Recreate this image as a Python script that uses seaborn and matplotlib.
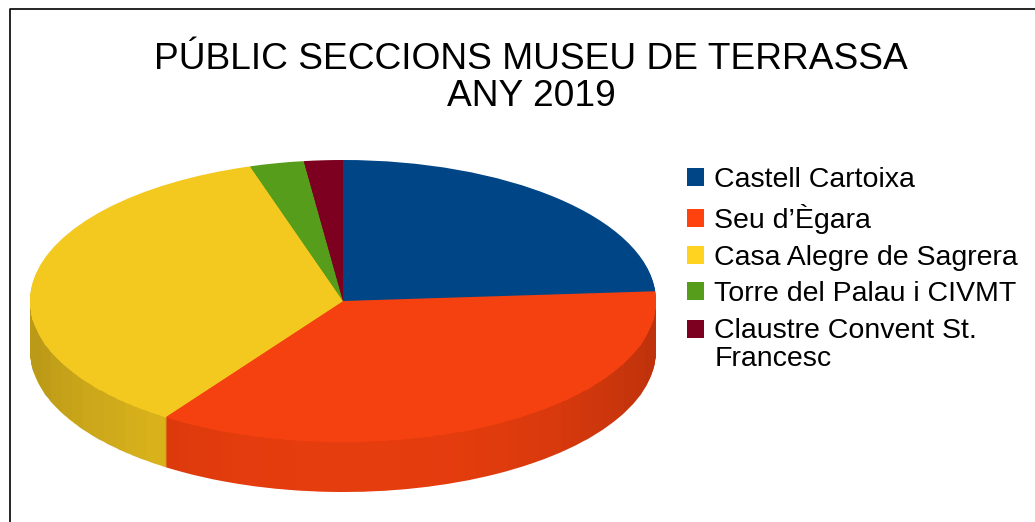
import matplotlib
matplotlib.use('Agg')
import matplotlib.pyplot as plt
import numpy as np
import seaborn as sns
from matplotlib.colors import LinearSegmentedColormap
from matplotlib.patches import Polygon

labels = ['Castell Cartoixa', 'Seu d’Ègara', 'Casa Alegre de Sagrera',
          'Torre del Palau i CIVMT', 'Claustre Convent St.\nFrancesc']
values = [23.9, 35.7, 35.6, 2.8, 2.0]
face_colors = ['#004586', '#F5410F', '#F3C81F', '#579D1C', '#7E0021']
legend_colors = ['#004586', '#FF420E', '#FFD320', '#579D1C', '#7E0021']

title = 'PÚBLIC SECCIONS MUSEU DE TERRASSA\nANY 2019'

W, H = 1035, 522
CX, CY, RX, RY, DEPTH = 343, 301, 313, 141, 50

sns.set_theme(style='white')
plt.rcParams['font.family'] = ['Liberation Sans', 'DejaVu Sans']
palette = sns.color_palette(face_colors)

fig = plt.figure(figsize=(W / 100, H / 100), dpi=100)
ax = fig.add_axes([0, 0, 1, 1])

# the side of the disc: same pie stacked downwards
for d in range(DEPTH, 0, -1):
    side, _ = ax.pie(values, colors=palette, startangle=90, counterclock=False,
                     center=(0, -d / RY), wedgeprops={'linewidth': 0})
    for w in side:
        w.set_zorder(1)

wedges, _ = ax.pie(values, colors=palette, startangle=90, counterclock=False,
                   wedgeprops={'linewidth': 0})
for w in wedges:
    w.set_zorder(3)

ax.set(aspect='auto', xlim=(-CX / RX, (W - CX) / RX),
       ylim=((CY - H) / RY, CY / RY))

# darker towards the ends of the side
t = np.linspace(np.pi, 2 * np.pi, 200)
rim = np.column_stack([np.cos(t), np.sin(t) - DEPTH / RY])
top = np.column_stack([np.cos(t[::-1]), np.sin(t[::-1])])
clip = Polygon(np.vstack([rim, top]), transform=ax.transData, fill=False, lw=0)
ax.add_patch(clip)
xs = np.linspace(-1, 1, 60)
shade = 0.06 + 0.17 * np.abs(xs[:-1]) ** 2.5
cmap = LinearSegmentedColormap.from_list('shade', [(0, 0, 0, 0), (0, 0, 0, 1)])
mesh = ax.pcolormesh(xs, [-1 - DEPTH / RY, 1], shade[None, :], cmap=cmap,
                     vmin=0, vmax=1, zorder=2, linewidth=0)
mesh.set_clip_path(clip)

fig.text(531 / W, 1 - 78 / H, title, ha='center', va='center', fontsize=26.7,
         linespacing=1.06, color='black')

leg = ax.legend(wedges, labels, loc='upper left', bbox_to_anchor=(687 / W, 1 - 167 / H),
                frameon=False, fontsize=20.5, labelcolor='black', handlelength=0.6,
                handleheight=0.6, handletextpad=0.36, labelspacing=0.38,
                borderpad=0, borderaxespad=0)
for h, c in zip(leg.legend_handles, legend_colors):
    h.set_facecolor(c)
# two-line label: square goes with the first line
leg.legend_handles[4].set_y(leg.legend_handles[4].get_y() + 12)
leg.get_texts()[4].set_linespacing(1.1)

# border of the chart area
ax.plot([9.5 / W, 9.5 / W, 1], [0, 1 - 8.5 / H, 1 - 8.5 / H], color='black', lw=1.2,
        transform=ax.transAxes, clip_on=False, zorder=5)

fig.savefig('out.png', dpi=100, facecolor='white')
